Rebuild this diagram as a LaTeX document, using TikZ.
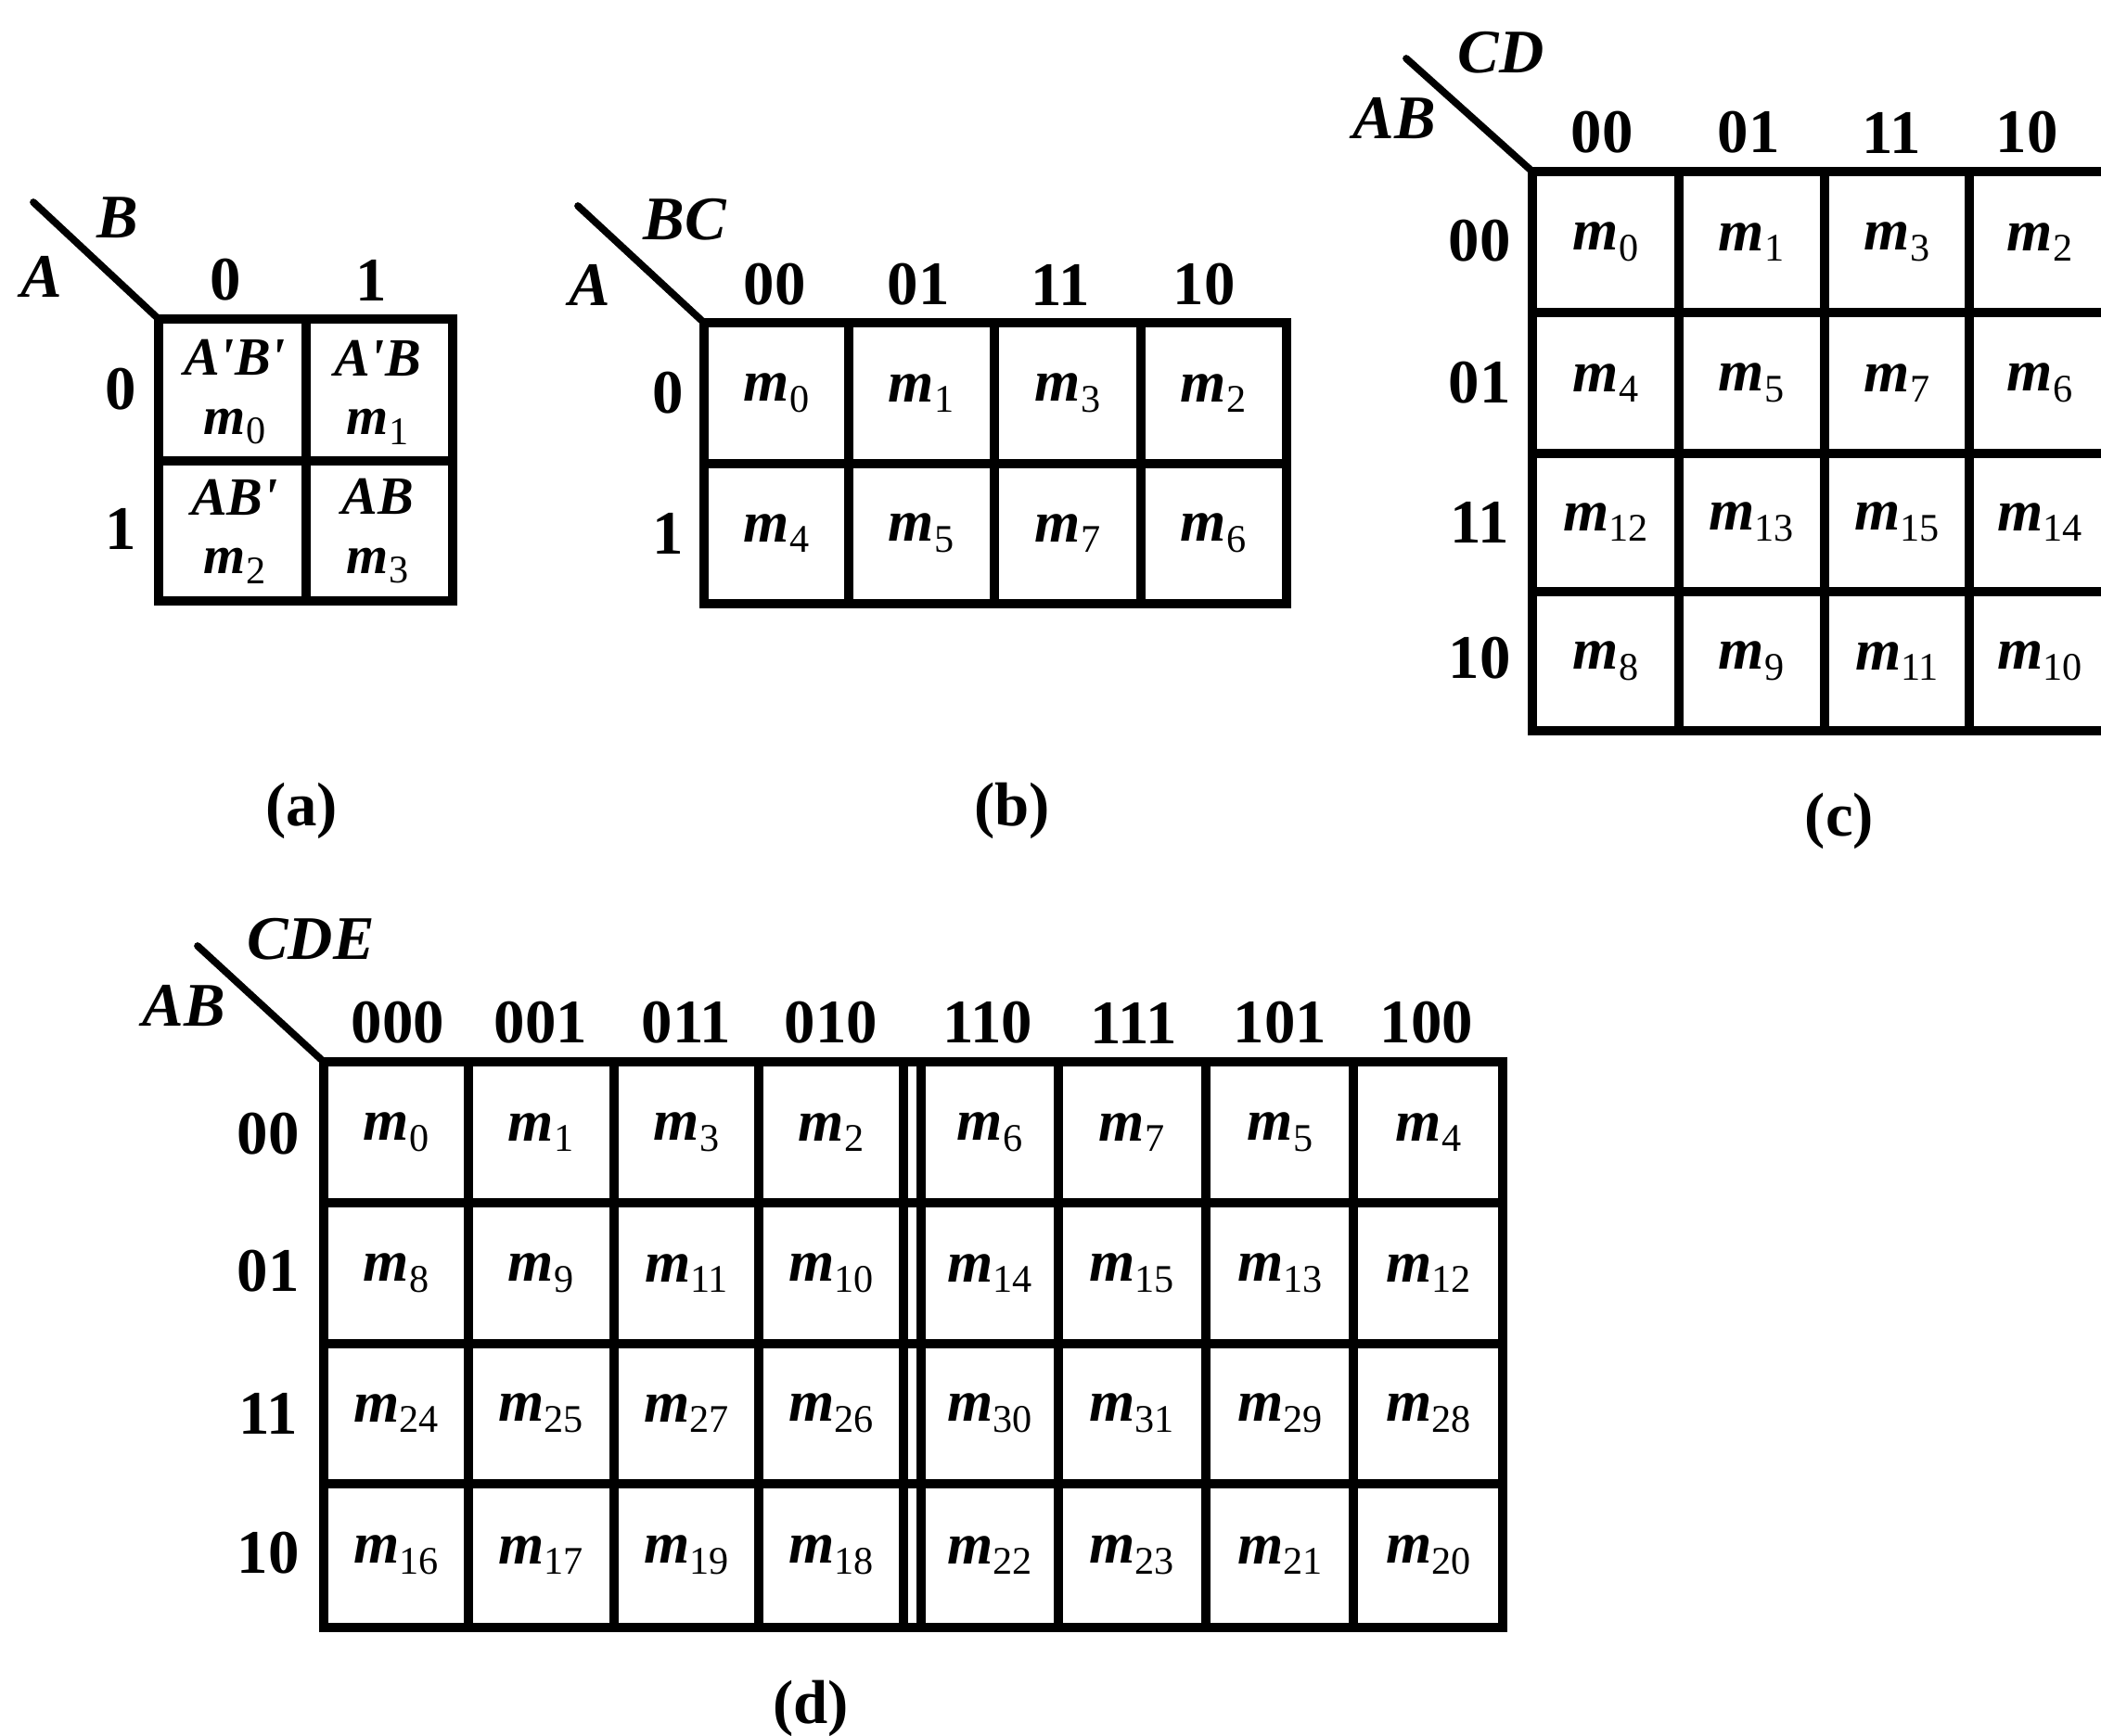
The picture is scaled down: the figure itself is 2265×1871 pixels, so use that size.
\documentclass[tikz,border=0pt]{standalone}
\usepackage{fontspec}
\setmainfont{Liberation Serif}
\usetikzlibrary{positioning}
\tikzset{kline/.style = {line width = 2.7pt, line cap = rect}}
\tikzset{kdiag/.style = {line width = 2.2pt, line cap = round}}
\tikzset{bitlbl/.style = {inner sep = 0, font = \fontsize{19}{19}\selectfont\bfseries}}
\tikzset{varlbl/.style = {inner sep = 0, font = \fontsize{19}{19}\selectfont\bfseries\itshape}}
\tikzset{mterm/.style = {inner sep = 0, font = \fontsize{18}{18}\selectfont}}
\tikzset{prodterm/.style = {inner sep = 0, align = center, font = \fontsize{16.5}{18}\selectfont\bfseries\itshape}}
\tikzset{figlbl/.style = {inner sep = 0, font = \fontsize{19}{19}\selectfont\bfseries}}
\newcommand{\minterm}[1]{\textbf{\textit{m}}\raisebox{-0.4ex}{\fontsize{12}{12}\selectfont\upshape\mdseries #1}}
\newcommand{\prm}{\textquotesingle}

\begin{document}
\begin{tikzpicture}[x = 0.01cm, y = -0.01cm]
    \useasboundingbox (0,0) rectangle (2265,1871);

    % (a) two variables
    \coordinate (a-tip) at (36,218);
    \coordinate (a-corner) at (171,344);
    \draw[kdiag] (a-tip) -- (a-corner);
    \foreach \x in {171,330,488} \draw[kline] (\x,344) -- (\x,648);
    \foreach \y in {344,497,648} \draw[kline] (171,\y) -- (488,\y);
    \node[varlbl] (a-B) at (127,235) {B};
    \node[varlbl] (a-A) at (45,298) {A};
    \foreach \x/\t in {243/0, 400/1} \node[bitlbl] (a-col\t) at (\x,302) {\t};
    \foreach \y/\t in {420/0, 570/1} \node[bitlbl] (a-row\t) at (130,\y) {\t};
    \foreach \x/\y/\t/\n in {253/423/A\prm B\prm/0, 407/423/A\prm B/1, 253/573/AB\prm/2, 407/573/AB/3}
        \node[prodterm] (a-p\n) at (\x,\y) {\t\\\minterm{\n}};
    \node[figlbl] (a-cap) at (325,874) {(a)};

    % (b) three variables
    \coordinate (b-tip) at (623,222);
    \coordinate (b-corner) at (759,348);
    \draw[kdiag] (b-tip) -- (b-corner);
    \foreach \x in {759,915,1072,1230,1387} \draw[kline] (\x,348) -- (\x,651);
    \foreach \y in {348,500,651} \draw[kline] (759,\y) -- (1387,\y);
    \node[varlbl] (b-BC) at (738,237) {BC};
    \node[varlbl] (b-A) at (636,307) {A};
    \foreach \x/\t in {835/00, 990/01, 1143/11, 1298/10} \node[bitlbl] (b-col\t) at (\x,307) {\t};
    \foreach \y/\t in {424/0, 575/1} \node[bitlbl] (b-row\t) at (720,\y) {\t};
    \foreach \y/\a in {424/0, 575/1}
        \foreach \x/\bc in {837/0, 993/1, 1151/3, 1308/2} {
            \pgfmathtruncatemacro{\n}{4*\a+\bc}
            \node[mterm] (b-m\n) at (\x,\y) {\minterm{\n}};
        }
    \node[figlbl] (b-cap) at (1091,874) {(b)};

    % (c) four variables, cut at the right edge
    \coordinate (c-tip) at (1516,63);
    \coordinate (c-corner) at (1652,185);
    \draw[kdiag] (c-tip) -- (c-corner);
    \foreach \x in {1652,1810,1967,2123} \draw[kline] (\x,185) -- (\x,788);
    \foreach \y in {185,337,489,638,788} \draw[kline] (1652,\y) -- (2262,\y);
    \node[varlbl] (c-CD) at (1618,57) {CD};
    \node[varlbl] (c-AB) at (1503,128) {AB};
    \foreach \x/\t in {1727/00, 1885/01, 2039/11, 2185/10} \node[bitlbl] (c-col\t) at (\x,143) {\t};
    \foreach \y/\t in {260/00, 413/01, 563/11, 710/10} \node[bitlbl] (c-row\t) at (1595,\y) {\t};
    \foreach \y/\ab in {261/0, 413/1, 563/3, 713/2}
        \foreach \x/\cd in {1731/0, 1888/1, 2045/3, 2199/2} {
            \pgfmathtruncatemacro{\n}{4*\ab+\cd}
            \node[mterm] (c-m\n) at (\x,\y) {\minterm{\n}};
        }
    \node[figlbl] (c-cap) at (1983,885) {(c)};

    % (d) five variables, mirrored halves
    \coordinate (d-tip) at (213,1020);
    \coordinate (d-corner) at (349,1145);
    \draw[kdiag] (d-tip) -- (d-corner);
    \foreach \x in {349,505,662,818,974,993,1141,1300,1459,1620} \draw[kline] (\x,1145) -- (\x,1755);
    \foreach \y in {1145,1297,1449,1600,1755} \draw[kline] (349,\y) -- (1620,\y);
    \node[varlbl] (d-CDE) at (335,1013) {CDE};
    \node[varlbl] (d-AB) at (198,1085) {AB};
    \foreach \x/\t in {429/000, 583/001, 740/011, 896/010, 1065/110, 1222/111, 1380/101, 1538/100}
        \node[bitlbl] (d-col\t) at (\x,1103) {\t};
    \foreach \y/\t in {1223/00, 1371/01, 1524/11, 1675/10} \node[bitlbl] (d-row\t) at (289,\y) {\t};
    \foreach \y/\ab in {1221/0, 1373/1, 1524/3, 1677/2}
        \foreach \x/\cde in {427/0, 583/1, 740/3, 896/2, 1067/6, 1220/7, 1380/5, 1540/4} {
            \pgfmathtruncatemacro{\n}{8*\ab+\cde}
            \node[mterm] (d-m\n) at (\x,\y) {\minterm{\n}};
        }
    \node[figlbl] (d-cap) at (874,1842) {(d)};
\end{tikzpicture}
\end{document}
